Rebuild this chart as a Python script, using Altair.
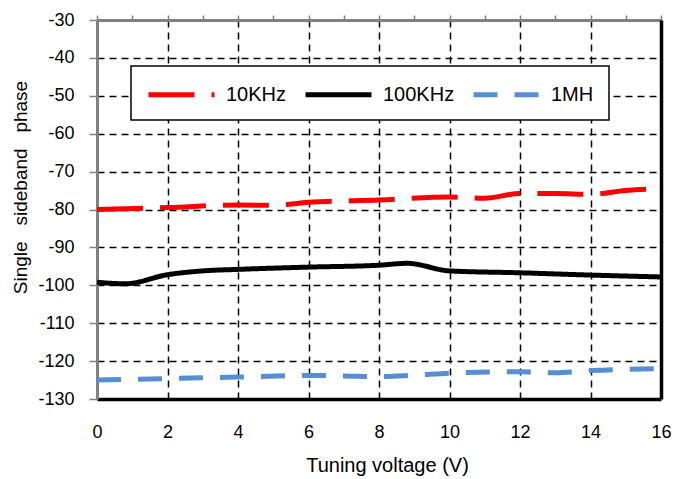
import altair as alt
import pandas as pd

# ---- data ----
series_names = ["10KHz", "100KHz", "1MH"]

x_10k = [0, 2, 4, 5, 6, 8, 10, 11, 12, 13, 14, 15, 16]
y_10k = [-80.0, -79.5, -78.8, -78.9, -78.1, -77.5, -76.7, -77.0, -75.8, -75.8, -76.0, -75.0, -74.5]

x_100k = [0, 0.8, 2, 3, 4, 6, 8, 8.8, 10, 12, 14, 16]
y_100k = [-99.2, -99.6, -97.2, -96.2, -95.8, -95.2, -94.7, -94.2, -96.2, -96.7, -97.3, -97.8]

x_1m = [0, 2, 4, 6, 7, 8, 9, 10, 12, 13, 14, 16]
y_1m = [-125.0, -124.6, -124.2, -123.8, -123.9, -124.1, -123.7, -123.2, -122.8, -123.1, -122.5, -122.0]

x_ticks = list(range(0, 17, 2))
x_minor = list(range(0, 17, 1))
y_ticks = list(range(-130, -29, 10))

colors = ["#FF0000", "#000000", "#558ED5"]
dashes = [[46, 17], [1, 0], [24, 17]]

rows = []
for name, xs, ys in [("10KHz", x_10k, y_10k), ("100KHz", x_100k, y_100k), ("1MH", x_1m, y_1m)]:
    for xv, yv in zip(xs, ys):
        rows.append({"v": xv, "p": yv, "s": name})
df = pd.DataFrame(rows)

FONT = "Liberation Sans"
NB = "\u00a0"
y_title = "Single" + NB * 3 + "sideband" + NB * 3 + "phase"

legend_spec = dict(
    title=None,
    orient="none",
    legendX=34,
    legendY=46,
    direction="horizontal",
    symbolType="M-1,0H5",
    symbolSize=484,
    symbolStrokeWidth=5,
    labelFontSize=20,
    labelFont=FONT,
    labelColor="#000000",
    labelOffset=53,
    columnPadding=8,
    padding=15,
    strokeColor="#000000",
    fillColor="#FFFFFF",
)

xscale = alt.Scale(domain=[0, 16], nice=False, zero=False)
yscale = alt.Scale(domain=[-130, -30], nice=False, zero=False)

lines = alt.Chart(df).mark_line(strokeWidth=5, interpolate="monotone", strokeCap="butt").encode(
    x=alt.X("v:Q", scale=xscale, axis=alt.Axis(
        orient="bottom", values=x_ticks, title="Tuning voltage (V)",
        domainColor="#000000", domainWidth=3.5,
        ticks=False, tickSize=0,
        labelFontSize=18, labelFont=FONT, labelColor="#000000", labelPadding=24,
        labelFlush=False, labelExpr="'' + datum.value",
        grid=True, gridColor="#000000", gridWidth=1.5, gridDash=[7, 5],
        gridOpacity=alt.condition("datum.value == 0 || datum.value == 16", alt.value(0), alt.value(1)),
        titleFontSize=20, titleFont=FONT, titleFontWeight="normal", titleColor="#000000",
        titleX=290, titleY=66, titleBaseline="middle")),
    y=alt.Y("p:Q", scale=yscale, axis=alt.Axis(
        orient="left", values=y_ticks, title=y_title,
        domainColor="#808080", domainWidth=3,
        ticks=True, tickSize=8, tickColor="#808080", tickWidth=1.5,
        labelFontSize=18, labelFont=FONT, labelColor="#000000", labelPadding=15,
        labelFlush=False, labelExpr="'' + datum.value",
        grid=True, gridColor="#000000", gridWidth=1.5, gridDash=[7, 5],
        gridOpacity=alt.condition("datum.value == -130 || datum.value == -30", alt.value(0), alt.value(1)),
        titleFontSize=19, titleFont=FONT, titleFontWeight="normal", titleColor="#000000",
        titleX=-77, titleY=167, titleBaseline="middle")),
    color=alt.Color("s:N", scale=alt.Scale(domain=series_names, range=colors),
                    legend=alt.Legend(**legend_spec)),
    strokeDash=alt.StrokeDash("s:N", scale=alt.Scale(domain=series_names, range=dashes),
                              legend=alt.Legend(**legend_spec)),
)

frame = alt.Chart(df).mark_point(opacity=0).encode(
    x=alt.X("v:Q", scale=xscale, axis=alt.Axis(
        orient="top", values=x_minor, title=None, labels=False, grid=False,
        domainColor="#808080", domainWidth=3,
        ticks=True, tickSize=5, tickColor="#808080", tickWidth=1.5, zindex=1)),
    y=alt.Y("p:Q", scale=yscale, axis=alt.Axis(
        orient="right", title=None, labels=False, grid=False, ticks=False,
        domainColor="#000000", domainWidth=3.5, zindex=1)),
)

chart = alt.layer(lines, frame).resolve_axis(
    x="independent", y="independent"
).properties(
    width=564, height=379,
    autosize=alt.AutoSizeParams(type="none"),
    padding={"left": 97, "top": 20, "right": 14, "bottom": 80},
    background="#FFFFFF",
).configure_view(stroke=None).configure_legend(strokeWidth=1.5)

chart.save("out.html", embed_options={"renderer": "svg", "actions": False})
